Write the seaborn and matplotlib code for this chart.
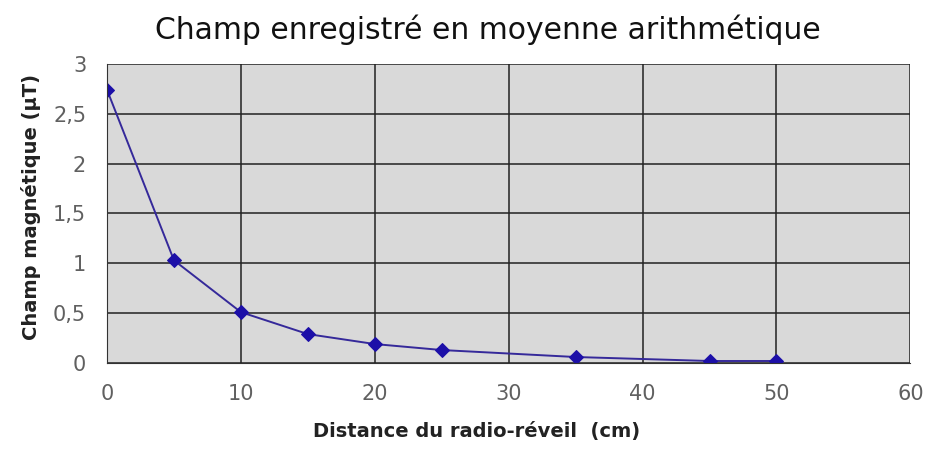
import pandas as pd
import matplotlib.pyplot as plt
import seaborn as sns

# Données
distance_cm = [0, 5, 10, 15, 20, 25, 35, 45, 50]
champ_uT = [2.74, 1.03, 0.51, 0.29, 0.19, 0.13, 0.06, 0.02, 0.02]
x_ticks = [0, 10, 20, 30, 40, 50, 60]
y_ticks = [0, 0.5, 1, 1.5, 2, 2.5, 3]
y_labels = ["0", "0,5", "1", "1,5", "2", "2,5", "3"]

df = pd.DataFrame({"distance": distance_cm, "champ": champ_uT})

sns.set_style("white")
plt.rcParams['font.family'] = ['DejaVu Sans']

fig = plt.figure(figsize=(9.26, 4.62), dpi=100)
ax = fig.add_axes([0.1156, 0.2143, 0.8675, 0.6472])
ax.set_facecolor("#d9d9d9")

sns.lineplot(data=df, x="distance", y="champ", ax=ax, color="#35299a",
             linewidth=1.4, marker="D", markersize=7,
             markerfacecolor="#1c0fa8", markeredgecolor="#1c0fa8")

ax.set_xlim(0, 60)
ax.set_ylim(0, 3)
ax.set_xticks(x_ticks)
ax.set_yticks(y_ticks)
ax.set_yticklabels(y_labels)
ax.grid(True, color="#222222", linewidth=1.1)
ax.set_axisbelow(True)
for s in ["top", "right"]:
    ax.spines[s].set_visible(False)
for s in ["left", "bottom"]:
    ax.spines[s].set_color("#333333")
ax.tick_params(axis="both", direction="out", length=6, width=1, color="#333333",
               labelsize=15, labelcolor="#606060", pad=9)
ax.set_xlabel("")
ax.set_ylabel("")

fig.text(0.527, 0.935, "Champ enregistré en moyenne arithmétique",
         fontsize=21.5, color="#111111", ha="center", va="center")
fig.text(0.515, 0.065, "Distance du radio-réveil  (cm)", fontsize=14,
         fontweight="bold", color="#222222", ha="center", va="center")
fig.text(0.033, 0.553, "Champ magnétique (µT)", fontsize=14, fontweight="bold",
         color="#222222", ha="center", va="center", rotation=90)

fig.savefig("out.png", dpi=100)
